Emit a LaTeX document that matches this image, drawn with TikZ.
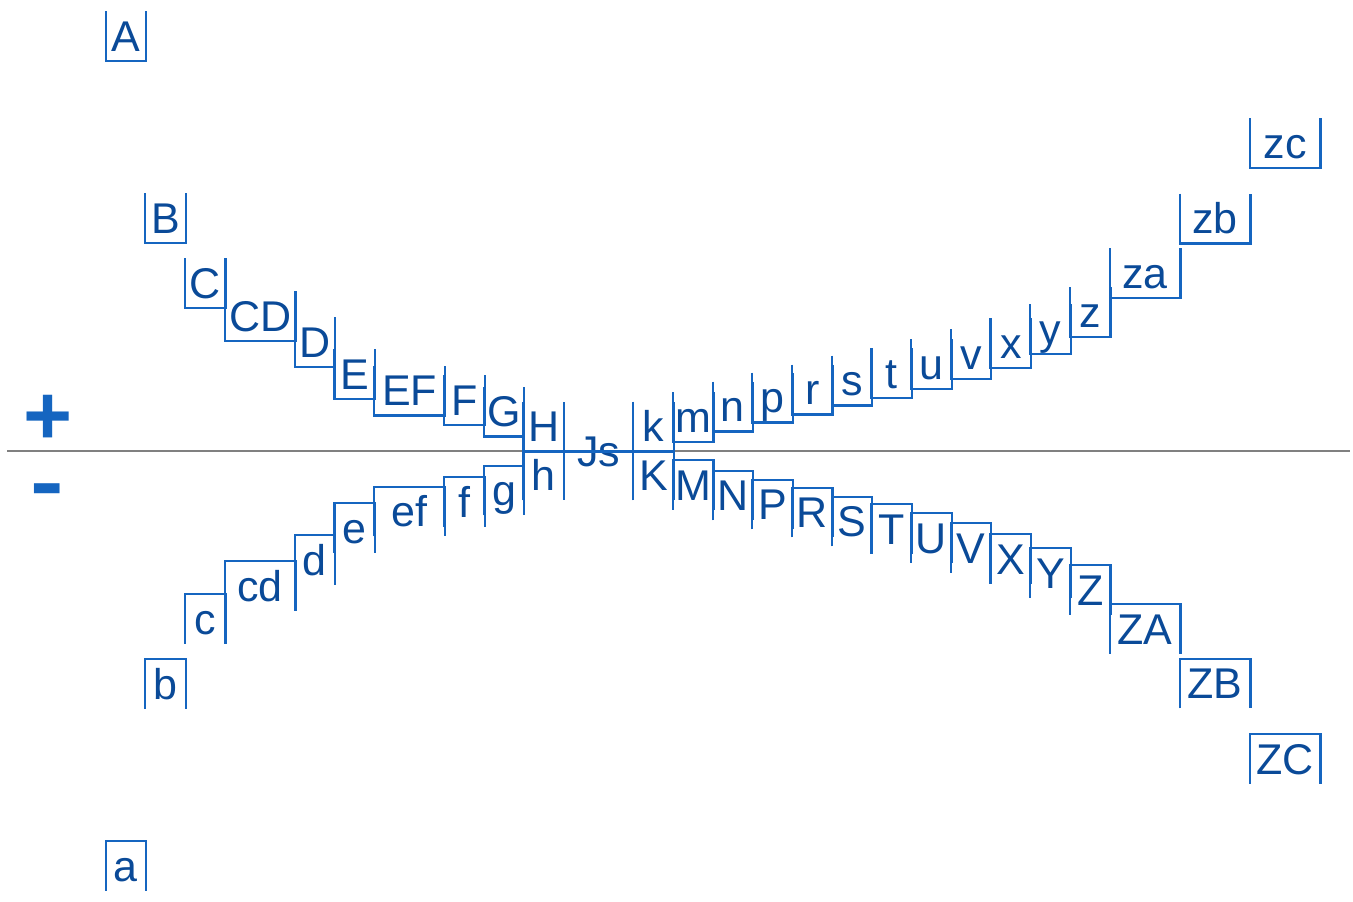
\documentclass[tikz,border=0pt]{standalone}
\usepackage{fontspec}
\setmainfont{Liberation Sans}
\definecolor{lineblue}{RGB}{21,101,192}
\definecolor{textblue}{RGB}{10,74,152}
\definecolor{axisgray}{RGB}{128,128,128}
\tikzset{
  lbl/.style={inner sep=0pt, minimum width=19.85pt, minimum height=24.5pt,
    text height=19.75pt, text depth=4.75pt, text=textblue,
    font=\fontsize{21.5}{21.5}\selectfont},
  wide/.style={lbl, minimum width=35pt},
  box/.style={lineblue, line width=1.1pt},
  sign/.style={inner sep=0pt, text=lineblue, font=\fontsize{42}{42}\selectfont\bfseries}
}
\begin{document}
\begin{tikzpicture}[x=0.5pt,y=0.5pt]
\useasboundingbox (0,0) rectangle (1353,-901);
\coordinate (axl) at (7,-451);
\coordinate (axr) at (1350,-451);
\draw [axisgray, line width=0.9pt] (axl) -- (axr);
\node [sign] (plus) at (48,-420) {+};
\node [sign, xscale=1.2] (minus) at (47.5,-497) {-};
% upper branch
\node [lbl] (A) at (125.85,-36) {A};
\draw [box] (A.north west) |- (A.south east) -- (A.north east);
\node [lbl] (B) at (165.55,-218) {B};
\draw [box] (B.north west) |- (B.south east) -- (B.north east);
\node [lbl] (C) at (205.25,-283) {C};
\draw [box] (C.north west) |- (C.south east) -- (C.north east);
\node [wide] (CD) at (260.1,-316) {CD};
\draw [box] (CD.north west) |- (CD.south east) -- (CD.north east);
\node [lbl] (D) at (314.95,-342) {D};
\draw [box] (D.north west) |- (D.south east) -- (D.north east);
\node [lbl] (E) at (354.65,-374) {E};
\draw [box] (E.north west) |- (E.south east) -- (E.north east);
\node [wide] (EF) at (409.5,-390.5) {EF};
\draw [box] (EF.north west) |- (EF.south east) -- (EF.north east);
\node [lbl] (F) at (464.35,-400) {F};
\draw [box] (F.north west) |- (F.south east) -- (F.north east);
\node [lbl] (G) at (504.05,-411.5) {G};
\draw [box] (G.north west) |- (G.south east) -- (G.north east);
\node [lbl] (H) at (543.75,-426.5) {H};
\draw [box] (H.north west) |- (H.south east) -- (H.north east);
\node [wide] (Js) at (598.6,-451) {Js};
\node [lbl] (k) at (653.45,-426.5) {k};
\draw [box] (k.north west) |- (k.south east) -- (k.north east);
\draw [box] (H.south east) -- (k.south west);
\node [lbl] (m) at (693.15,-417) {m};
\draw [box] (m.north west) |- (m.south east) -- (m.north east);
\node [lbl] (n) at (732.85,-406.5) {n};
\draw [box] (n.north west) |- (n.south east) -- (n.north east);
\node [lbl] (p) at (772.55,-397.5) {p};
\draw [box] (p.north west) |- (p.south east) -- (p.north east);
\node [lbl] (r) at (812.25,-389.5) {r};
\draw [box] (r.north west) |- (r.south east) -- (r.north east);
\node [lbl] (s) at (851.95,-380.5) {s};
\draw [box] (s.north west) |- (s.south east) -- (s.north east);
\node [lbl] (t) at (891.65,-373) {t};
\draw [box] (t.north west) |- (t.south east) -- (t.north east);
\node [lbl] (u) at (931.35,-364) {u};
\draw [box] (u.north west) |- (u.south east) -- (u.north east);
\node [lbl] (v) at (971.05,-354) {v};
\draw [box] (v.north west) |- (v.south east) -- (v.north east);
\node [lbl] (x) at (1010.75,-343) {x};
\draw [box] (x.north west) |- (x.south east) -- (x.north east);
\node [lbl] (y) at (1050.45,-329) {y};
\draw [box] (y.north west) |- (y.south east) -- (y.north east);
\node [lbl] (z) at (1090.15,-312) {z};
\draw [box] (z.north west) |- (z.south east) -- (z.north east);
\node [wide] (za) at (1145,-273) {za};
\draw [box] (za.north west) |- (za.south east) -- (za.north east);
\node [wide] (zb) at (1215,-218.5) {zb};
\draw [box] (zb.north west) |- (zb.south east) -- (zb.north east);
\node [wide] (zc) at (1285,-143) {zc};
\draw [box] (zc.north west) |- (zc.south east) -- (zc.north east);
% lower branch
\node [lbl] (a) at (125.85,-866) {a};
\draw [box] (a.south west) |- (a.north east) -- (a.south east);
\node [lbl] (b) at (165.55,-684) {b};
\draw [box] (b.south west) |- (b.north east) -- (b.south east);
\node [lbl] (c) at (205.25,-619) {c};
\draw [box] (c.south west) |- (c.north east) -- (c.south east);
\node [wide] (cd) at (260.1,-586) {cd};
\draw [box] (cd.south west) |- (cd.north east) -- (cd.south east);
\node [lbl] (d) at (314.95,-560) {d};
\draw [box] (d.south west) |- (d.north east) -- (d.south east);
\node [lbl] (e) at (354.65,-528) {e};
\draw [box] (e.south west) |- (e.north east) -- (e.south east);
\node [wide] (ef) at (409.5,-511.5) {ef};
\draw [box] (ef.south west) |- (ef.north east) -- (ef.south east);
\node [lbl] (f) at (464.35,-502) {f};
\draw [box] (f.south west) |- (f.north east) -- (f.south east);
\node [lbl] (g) at (504.05,-490.5) {g};
\draw [box] (g.south west) |- (g.north east) -- (g.south east);
\node [lbl] (h) at (543.75,-475.5) {h};
\draw [box] (h.south west) |- (h.north east) -- (h.south east);
\node [lbl] (K) at (653.45,-475.5) {K};
\draw [box] (K.south west) |- (K.north east) -- (K.south east);
\node [lbl] (M) at (693.15,-485) {M};
\draw [box] (M.south west) |- (M.north east) -- (M.south east);
\node [lbl] (N) at (732.85,-495.5) {N};
\draw [box] (N.south west) |- (N.north east) -- (N.south east);
\node [lbl] (P) at (772.55,-504.5) {P};
\draw [box] (P.south west) |- (P.north east) -- (P.south east);
\node [lbl] (R) at (812.25,-512.5) {R};
\draw [box] (R.south west) |- (R.north east) -- (R.south east);
\node [lbl] (S) at (851.95,-521.5) {S};
\draw [box] (S.south west) |- (S.north east) -- (S.south east);
\node [lbl] (T) at (891.65,-529) {T};
\draw [box] (T.south west) |- (T.north east) -- (T.south east);
\node [lbl] (U) at (931.35,-538) {U};
\draw [box] (U.south west) |- (U.north east) -- (U.south east);
\node [lbl] (V) at (971.05,-548) {V};
\draw [box] (V.south west) |- (V.north east) -- (V.south east);
\node [lbl] (X) at (1010.75,-559) {X};
\draw [box] (X.south west) |- (X.north east) -- (X.south east);
\node [lbl] (Y) at (1050.45,-573) {Y};
\draw [box] (Y.south west) |- (Y.north east) -- (Y.south east);
\node [lbl] (Z) at (1090.15,-590) {Z};
\draw [box] (Z.south west) |- (Z.north east) -- (Z.south east);
\node [wide] (ZA) at (1145,-629) {ZA};
\draw [box] (ZA.south west) |- (ZA.north east) -- (ZA.south east);
\node [wide] (ZB) at (1215,-683.5) {ZB};
\draw [box] (ZB.south west) |- (ZB.north east) -- (ZB.south east);
\node [wide] (ZC) at (1285,-759) {ZC};
\draw [box] (ZC.south west) |- (ZC.north east) -- (ZC.south east);
\end{tikzpicture}
\end{document}
